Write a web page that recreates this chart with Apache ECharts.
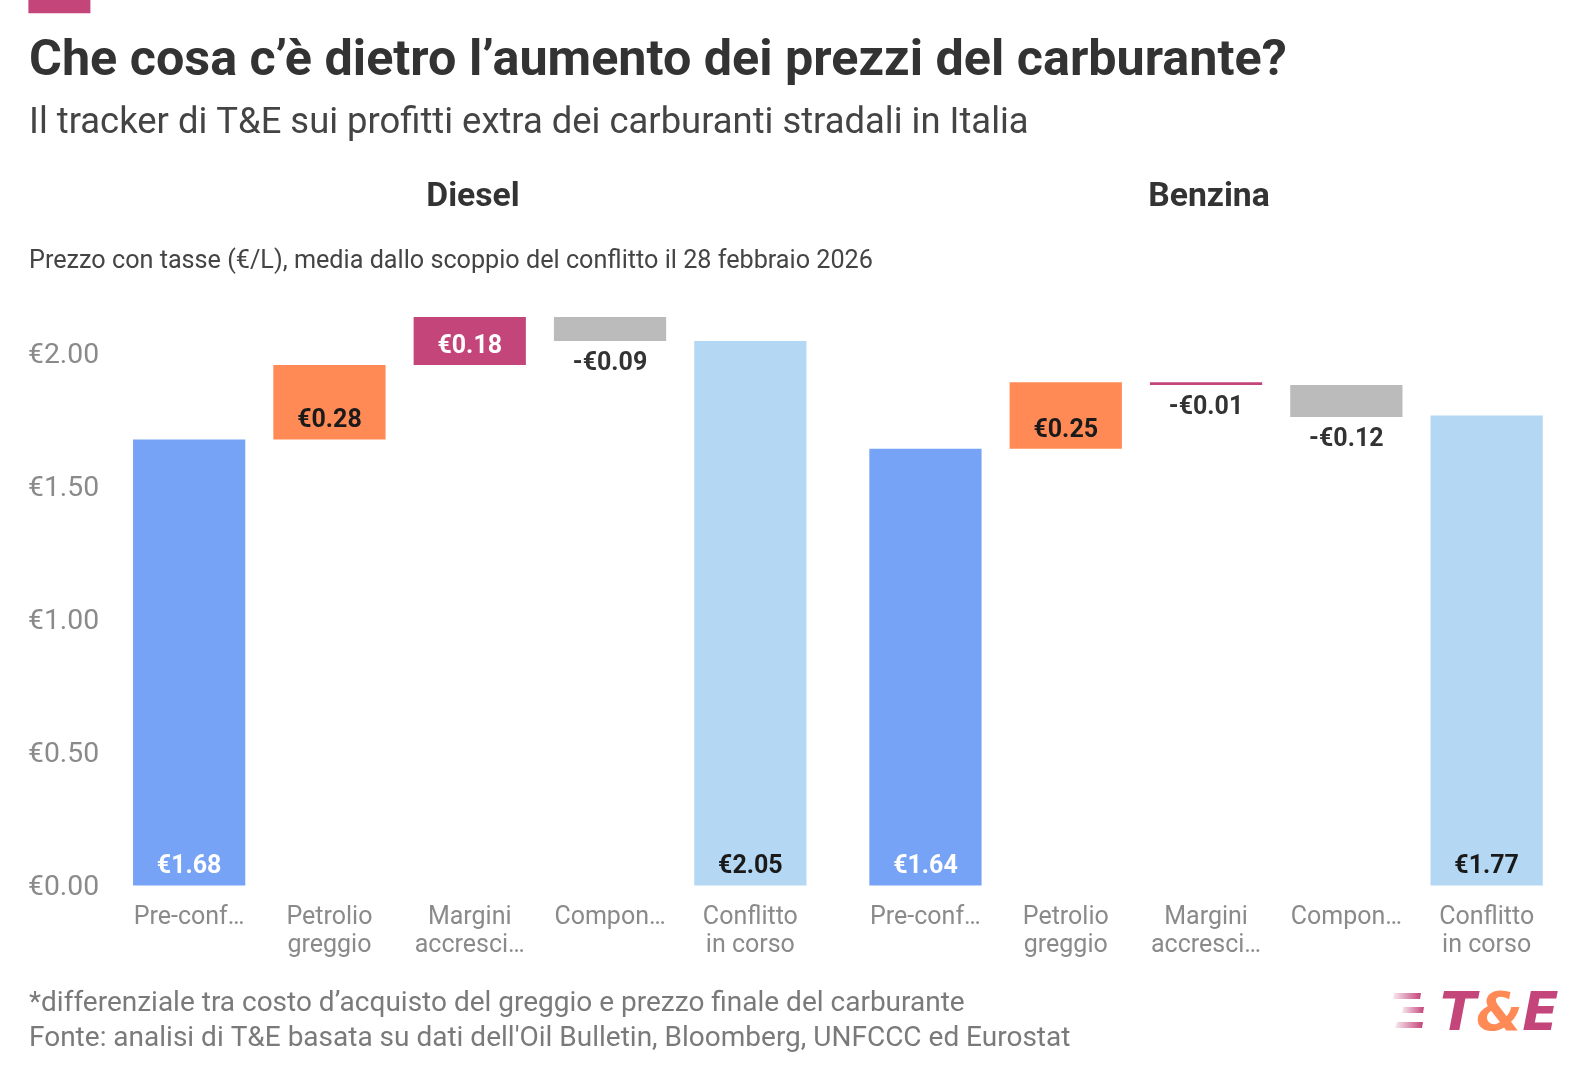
<!DOCTYPE html>
<html>
<head>
<meta charset="utf-8">
<script src="https://cdn.jsdelivr.net/npm/echarts@6/dist/echarts.min.js"></script>
<style>
  html, body { margin: 0; padding: 0; background: #fff; }
  #chart { width: 1590px; height: 1082px; }
</style>
</head>
<body>
<div id="chart"></div>
<script>
// categories (same for both panels)
var categories = ["Pre-conf…", "Petrolio\ngreggio", "Margini\naccresci…", "Compon…", "Conflitto\nin corso"];
// euro per litre: start, steps, final
var dieselValues = [1.675, 0.28, 0.18, -0.09, 2.045];
var benzinaValues = [1.64, 0.25, -0.01, -0.12, 1.765];
var yTicks = [0, 0.5, 1, 1.5, 2];

var barColors = ["#76a3f5", "#ff8a55", "#c4457a", "#bbbbbb", "#b4d8f3"];
var labelColors = ["#ffffff", "#1a1a1a", "#ffffff", "#333333", "#1a1a1a"];
var NEG_LABEL = "#333333";
var FONT = "Roboto";

function euro(v) {
	var r = Math.round(Math.abs(v) * 100 + 1e-6) / 100;
	return (v < 0 ? "-€" : "€") + r.toFixed(2);
}

// split waterfall into an invisible base and a visible bar
function waterfall(values) {
	var base = [], bar = [];
	var run = 0;
	for (var i = 0; i < values.length; i++) {
		var v = values[i];
		if (i == 0 || i == values.length - 1) {
			base.push(0);
			bar.push(v);
			run = v;
		} else if (v >= 0) {
			base.push(run);
			bar.push(v);
			run += v;
		} else {
			run += v;
			base.push(run);
			bar.push(-v);
		}
	}
	return { base: base, bar: bar };
}

var labelFont = { fontFamily: FONT, fontWeight: "bold", fontSize: 25 };

function barSeries(values, idx) {
	var w = waterfall(values);
	// negative steps get their label from the base bar, just under the step
	var baseData = w.base.map(function(b, i) {
		return {
			value: b,
			label: {
				show: values[i] < 0,
				position: "insideTop",
				distance: 10,
				color: NEG_LABEL,
				formatter: euro(values[i])
			}
		};
	});
	var data = w.bar.map(function(h, i) {
		return {
			value: h,
			itemStyle: { color: barColors[i] },
			label: {
				show: values[i] >= 0,
				position: "insideBottom",
				distance: 6,
				color: labelColors[i],
				formatter: euro(values[i])
			}
		};
	});
	return [{
		type: "bar",
		xAxisIndex: idx,
		yAxisIndex: idx,
		stack: "w" + idx,
		data: baseData,
		itemStyle: { color: "transparent" },
		label: labelFont,
		silent: true,
		barCategoryGap: "20%"
	}, {
		type: "bar",
		xAxisIndex: idx,
		yAxisIndex: idx,
		stack: "w" + idx,
		data: data,
		label: labelFont,
		barCategoryGap: "20%"
	}];
}

var yMin = 0, yMax = 2.2;
function yAxis(idx, showLabels) {
	return {
		type: "value",
		gridIndex: idx,
		min: yMin,
		max: yMax,
		interval: 0.5,
		splitLine: { show: false },
		axisLine: { show: false },
		axisTick: { show: false },
		axisLabel: {
			show: showLabels,
			showMaxLabel: false,
			align: "left",
			verticalAlign: "top",
			lineHeight: 6,
			margin: 91,
			color: "#8a8a8a",
			fontFamily: FONT,
			fontSize: 28.3,
			formatter: function(v) { return yTicks.indexOf(v) >= 0 ? "€" + v.toFixed(2) : ""; }
		}
	};
}
function xAxis(idx) {
	return {
		type: "category",
		gridIndex: idx,
		data: categories,
		axisLine: { show: false },
		axisTick: { show: false },
		axisLabel: {
			interval: 0,
			margin: 18,
			color: "#8a8a8a",
			fontFamily: FONT,
			fontSize: 25,
			lineHeight: 28.5
		}
	};
}

var stripeFill = function() {
	return new echarts.graphic.LinearGradient(0, 0, 1, 0, [
		{ offset: 0, color: "rgba(196,69,122,0.12)" },
		{ offset: 1, color: "#c4457a" }
	]);
};
var LOGO_FONT = "DejaVu Sans";

var chart = echarts.init(document.getElementById("chart"), null, { renderer: "canvas" });
chart.setOption({
	animation: false,
	backgroundColor: "#ffffff",
	title: [
		{ text: "Che cosa c’è dietro l’aumento dei prezzi del carburante?", left: 24, top: 32,
		  textStyle: { fontFamily: FONT, fontWeight: "bold", fontSize: 50.3, color: "#333333" } },
		{ text: "Il tracker di T&E sui profitti extra dei carburanti stradali in Italia", left: 24, top: 101,
		  textStyle: { fontFamily: FONT, fontWeight: "normal", fontSize: 36.4, color: "#444444" } },
		{ text: "Diesel", left: 468, top: 176, textAlign: "center",
		  textStyle: { fontFamily: FONT, fontWeight: "bold", fontSize: 33.7, color: "#333333" } },
		{ text: "Benzina", left: 1204, top: 176, textAlign: "center",
		  textStyle: { fontFamily: FONT, fontWeight: "bold", fontSize: 33.7, color: "#333333" } },
		{ text: "Prezzo con tasse (€/L), media dallo scoppio del conflitto il 28 febbraio 2026", left: 24, top: 244,
		  textStyle: { fontFamily: FONT, fontWeight: "normal", fontSize: 25.2, color: "#444444" } },
		{ text: "*differenziale tra costo d’acquisto del greggio e prezzo finale del carburante\nFonte: analisi di T&E basata su dati dell'Oil Bulletin, Bloomberg, UNFCCC ed Eurostat",
		  left: 24, top: 982,
		  textStyle: { fontFamily: FONT, fontWeight: "normal", fontSize: 28, lineHeight: 34.5, color: "#7a7a7a" } }
	],
	grid: [
		{ left: 119, width: 701.5, top: 299.8, bottom: 196.6 },
		{ left: 855.3, width: 701.5, top: 299.8, bottom: 196.6 }
	],
	xAxis: [xAxis(0), xAxis(1)],
	yAxis: [yAxis(0, true), yAxis(1, false)],
	series: barSeries(dieselValues, 0).concat(barSeries(benzinaValues, 1)),
	graphic: [
		{ type: "rect", shape: { x: 28.4, y: 0, width: 62, height: 13.2 }, style: { fill: "#c4457a" } },
		// T&E logo
		{ type: "polygon", shape: { points: [[1394, 993], [1421, 993], [1420, 999], [1393, 999]] }, style: { fill: stripeFill() } },
		{ type: "polygon", shape: { points: [[1403, 1007], [1424, 1007], [1423, 1013], [1402, 1013]] }, style: { fill: stripeFill() } },
		{ type: "polygon", shape: { points: [[1397, 1022], [1423, 1022], [1422, 1028], [1395, 1028]] }, style: { fill: stripeFill() } },
		{ type: "text", x: 1440, y: 989.5, style: {
			text: "{m|T}{o|&}{m|E}",
			rich: {
				m: { fontFamily: LOGO_FONT, fontWeight: "bold", fontStyle: "oblique", fontSize: 53, fill: "#c4457a" },
				o: { fontFamily: LOGO_FONT, fontWeight: "bold", fontStyle: "oblique", fontSize: 53, fill: "#ff8a55" }
			}
		} }
	]
});
</script>
</body>
</html>
